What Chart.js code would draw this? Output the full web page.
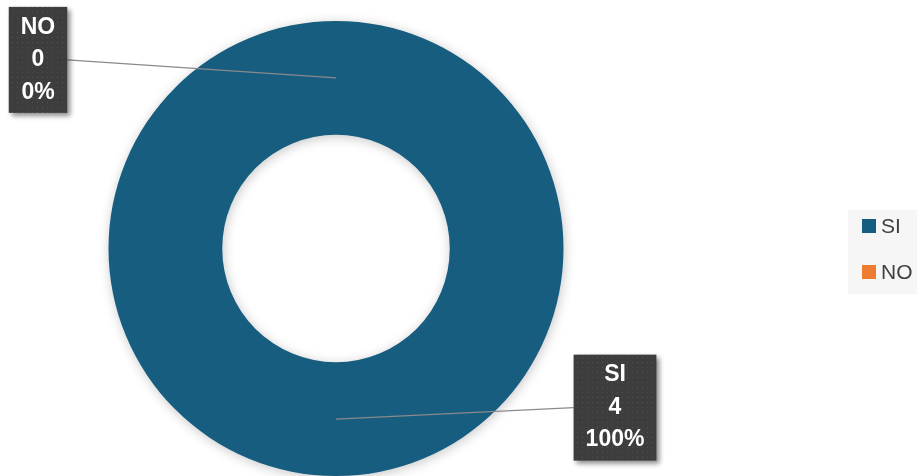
<!DOCTYPE html>
<html>
<head>
<meta charset="utf-8">
<script src="https://cdn.jsdelivr.net/npm/chart.js@4"></script>
<style>
  html, body { margin: 0; padding: 0; background: #fff; }
  #wrap { width: 917px; height: 476px; }
</style>
</head>
<body>
<div id="wrap"><canvas id="donutChart"></canvas></div>
<script>
// datos del gráfico
const categories = ['SI', 'NO'];
const values = [4, 0];
const colors = ['#175d80', '#ed7d31'];

// patrón de puntos para las etiquetas
function dotPattern(ctx) {
    const c = document.createElement('canvas');
    c.width = 5; c.height = 5;
    const p = c.getContext('2d');
    p.fillStyle = '#3d3d3d';
    p.fillRect(0, 0, 5, 5);
    p.fillStyle = '#525252';
    p.fillRect(2, 2, 1, 1);
    return ctx.createPattern(c, 'repeat');
}

// sombra suave del anillo
const ringShadow = {
    id: 'ringShadow',
    beforeDatasetDraw(chart) {
        const ctx = chart.ctx;
        ctx.save();
        ctx.shadowColor = 'rgba(0,0,0,0.22)';
        ctx.shadowBlur = 12;
        ctx.shadowOffsetX = 1;
        ctx.shadowOffsetY = 2;
    },
    afterDatasetDraw(chart) {
        chart.ctx.restore();
    }
};

// etiquetas con línea guía
const calloutLabels = {
    id: 'calloutLabels',
    afterDatasetsDraw(chart, args, opts) {
        const ctx = chart.ctx;
        const meta = chart.getDatasetMeta(0);
        const total = values.reduce((a, b) => a + b, 0);
        const pattern = dotPattern(ctx);
        meta.data.forEach((arc, i) => {
            const pos = arc.tooltipPosition();
            const off = opts.offsets[i];
            const lines = [categories[i], String(values[i]), Math.round(values[i] / total * 100) + '%'];
            ctx.save();
            ctx.font = 'bold 23px "Liberation Sans", Arial, sans-serif';
            const w = Math.max(...lines.map(t => ctx.measureText(t).width)) + 24;
            const h = 106;
            const cx = pos.x + off[0];
            const cy = pos.y + off[1];
            const left = cx - w / 2;
            const top = cy - h / 2;

            // línea guía
            ctx.strokeStyle = '#8a8a8a';
            ctx.lineWidth = 1.5;
            ctx.beginPath();
            ctx.moveTo(pos.x, pos.y);
            ctx.lineTo(off[0] > 0 ? left : left + w, cy);
            ctx.stroke();

            // caja
            ctx.save();
            ctx.shadowColor = 'rgba(0,0,0,0.45)';
            ctx.shadowBlur = 5;
            ctx.shadowOffsetX = 3;
            ctx.shadowOffsetY = 3;
            ctx.fillStyle = pattern;
            ctx.fillRect(left, top, w, h);
            ctx.restore();

            ctx.fillStyle = '#ffffff';
            ctx.textAlign = 'center';
            ctx.textBaseline = 'middle';
            lines.forEach((t, k) => {
                ctx.fillText(t, cx, cy + (k - 1) * 32.5);
            });
            ctx.restore();
        });
    }
};

// leyenda a la derecha
const sideLegend = {
    id: 'sideLegend',
    afterDraw(chart, args, opts) {
        const ctx = chart.ctx;
        ctx.save();
        ctx.fillStyle = '#f6f6f6';
        ctx.fillRect(opts.x, opts.y, opts.w, opts.h);
        ctx.font = '21px "Liberation Sans", Arial, sans-serif';
        ctx.textBaseline = 'middle';
        categories.forEach((cat, i) => {
            const y = opts.y + opts.firstRow + i * opts.rowGap;
            ctx.fillStyle = colors[i];
            ctx.fillRect(opts.x + 14, y - 7, 14, 14);
            ctx.fillStyle = '#404040';
            ctx.fillText(cat, opts.x + 33, y + 1);
        });
        ctx.restore();
    }
};

const ctx = document.getElementById('donutChart').getContext('2d');
new Chart(ctx, {
    type: 'doughnut',
    data: {
        labels: categories,
        datasets: [{
            data: values,
            backgroundColor: colors,
            borderWidth: 0
        }]
    },
    options: {
        responsive: true,
        maintainAspectRatio: false,
        animation: false,
        cutout: '50%',
        layout: {
            padding: { top: 21, bottom: 0, left: 0, right: 245 }
        },
        plugins: {
            legend: { display: false },
            tooltip: { enabled: false },
            calloutLabels: {
                offsets: [[279, -11.5], [-298, -18]]
            },
            sideLegend: { x: 848, y: 210, w: 69, h: 84, firstRow: 16, rowGap: 46 }
        }
    },
    plugins: [ringShadow, calloutLabels, sideLegend]
});
</script>
</body>
</html>
